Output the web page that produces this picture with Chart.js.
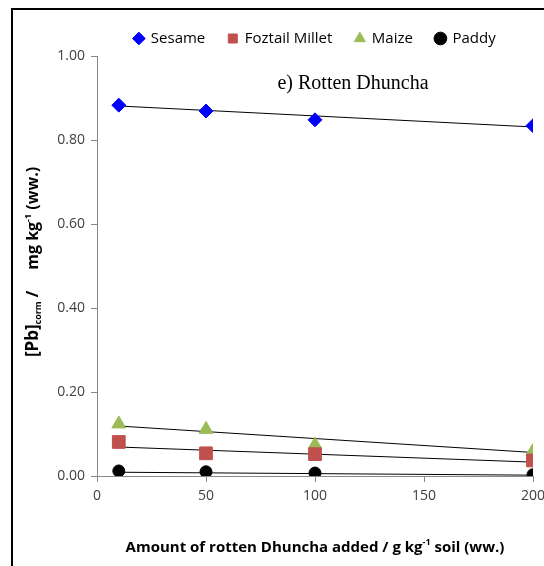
<!DOCTYPE html>
<html>
<head>
<meta charset="utf-8">
<script src="https://cdn.jsdelivr.net/npm/chart.js@4/dist/chart.umd.min.js"></script>
<style>
  html, body { margin: 0; padding: 0; background: #fff; overflow: hidden; }
  #wrap { position: absolute; left: 0; top: 0; width: 560px; height: 566px; }
  #frame { position: absolute; left: 11px; top: 8px; width: 600px; height: 600px;
           border-left: 2px solid #000; border-top: 2px solid #000; pointer-events: none; }
</style>
</head>
<body>
<div id="wrap"><canvas id="chart"></canvas></div>
<div id="frame"></div>
<script>
// values
const doses = [10, 50, 100, 200];
const sesame = [0.883, 0.869, 0.848, 0.834];
const millet = [0.081, 0.054, 0.052, 0.037];
const maize = [0.124, 0.111, 0.074, 0.059];
const paddy = [0.012, 0.010, 0.007, 0.003];

// trendline end points (x = 10 and x = 200)
const trendX = [10, 200];
const sesameTrend = [0.881, 0.831];
const milletTrend = [0.069, 0.033];
const maizeTrend = [0.119, 0.056];
const paddyTrend = [0.009, 0.002];

const yTicks = [0, 0.2, 0.4, 0.6, 0.8, 1.0];

const pts = (xs, ys) => xs.map((x, i) => ({ x: x, y: ys[i] }));

function trend(label, ys) {
    return {
        label: label, type: "line", data: pts(trendX, ys),
        borderColor: "#000", borderWidth: 1, pointRadius: 0, fill: false, order: 2
    };
}

const axisTitles = {
    id: "axisTitles",
    afterDraw(chart) {
        const ctx = chart.ctx;
        const fam = '"Open Sans", sans-serif';
        // chart caption
        ctx.save();
        ctx.fillStyle = "#000";
        ctx.font = '20px "Liberation Serif", serif';
        ctx.textAlign = "center";
        ctx.textBaseline = "middle";
        ctx.fillText("e) Rotten Dhuncha", 353, 84);
        ctx.restore();

        // pieces: [text, size, shift]
        function runs(parts, cx, cy, rotate) {
            ctx.save();
            ctx.fillStyle = "#000";
            ctx.textBaseline = "alphabetic";
            ctx.textAlign = "left";
            let w = 0;
            parts.forEach(p => { ctx.font = "bold " + p[1] + "px " + fam; w += ctx.measureText(p[0]).width; });
            ctx.translate(cx, cy);
            if (rotate) ctx.rotate(-Math.PI / 2);
            let x = -w / 2;
            parts.forEach(p => {
                ctx.font = "bold " + p[1] + "px " + fam;
                ctx.fillText(p[0], x, 5 + p[2]);
                x += ctx.measureText(p[0]).width;
            });
            ctx.restore();
        }
        runs([["Amount of rotten Dhuncha added / g kg", 15, 0], ["-1", 9, -7], [" soil (ww.)", 15, 0]], 315, 547, false);
        runs([["[Pb]", 17, 0], ["corm", 9, 3], [" /     mg kg", 16, 0], ["-1", 9, -7], [" (ww.)", 16, 0]], 33, 262, true);
    }
};

new Chart(document.getElementById("chart").getContext("2d"), {
    type: "scatter",
    data: {
        datasets: [
            { label: "Sesame", data: pts(doses, sesame), pointStyle: "rectRot", pointRadius: 7,
              backgroundColor: "#0000ff", borderColor: "#0000ff", order: 1 },
            { label: "Foztail Millet", data: pts(doses, millet), pointStyle: "rect", pointRadius: 9,
              backgroundColor: "#c0504d", borderColor: "#c0504d", order: 1 },
            { label: "Maize", data: pts(doses, maize), pointStyle: "triangle", pointRadius: 8,
              backgroundColor: "#9bbb59", borderColor: "#9bbb59", order: 1 },
            { label: "Paddy", data: pts(doses, paddy), pointStyle: "circle", pointRadius: 6,
              backgroundColor: "#000", borderColor: "#000", order: 1 },
            trend("t1", sesameTrend),
            trend("t2", milletTrend),
            trend("t3", maizeTrend),
            trend("t4", paddyTrend)
        ]
    },
    options: {
        responsive: true,
        maintainAspectRatio: false,
        animation: false,
        layout: { padding: { top: -3, right: 27, left: 0, bottom: 0 } },
        plugins: {
            tooltip: { enabled: false },
            legend: {
                display: true,
                position: "top",
                fullSize: false,
                labels: {
                    filter: item => item.datasetIndex < 4,
                    usePointStyle: true,
                    boxWidth: 9,
                    boxHeight: 9,
                    padding: 23,
                    color: "#000",
                    font: { family: '"Open Sans", sans-serif', size: 15 }
                }
            }
        },
        scales: {
            x: {
                type: "linear",
                min: 0, max: 200,
                ticks: { stepSize: 50, color: "#404040", padding: 6,
                         font: { family: '"Open Sans", sans-serif', size: 14 } },
                grid: { drawOnChartArea: false, drawTicks: true, tickLength: 6, color: "#888" },
                border: { color: "#888", width: 1 },
                afterFit(scale) { scale.height = 90; scale.paddingRight = 0; scale.paddingLeft = 0; }
            },
            y: {
                min: 0, max: 1,
                afterBuildTicks(scale) { scale.ticks = yTicks.map(v => ({ value: v })); },
                ticks: { color: "#404040", padding: 6,
                         callback: value => value.toFixed(2),
                         font: { family: '"Open Sans", sans-serif', size: 14 } },
                grid: { drawOnChartArea: false, drawTicks: true, tickLength: 6, color: "#888" },
                border: { color: "#888", width: 1 },
                afterFit(scale) { scale.width = 97; scale.paddingTop = 56; }
            }
        }
    },
    plugins: [axisTitles]
});
</script>
</body>
</html>
